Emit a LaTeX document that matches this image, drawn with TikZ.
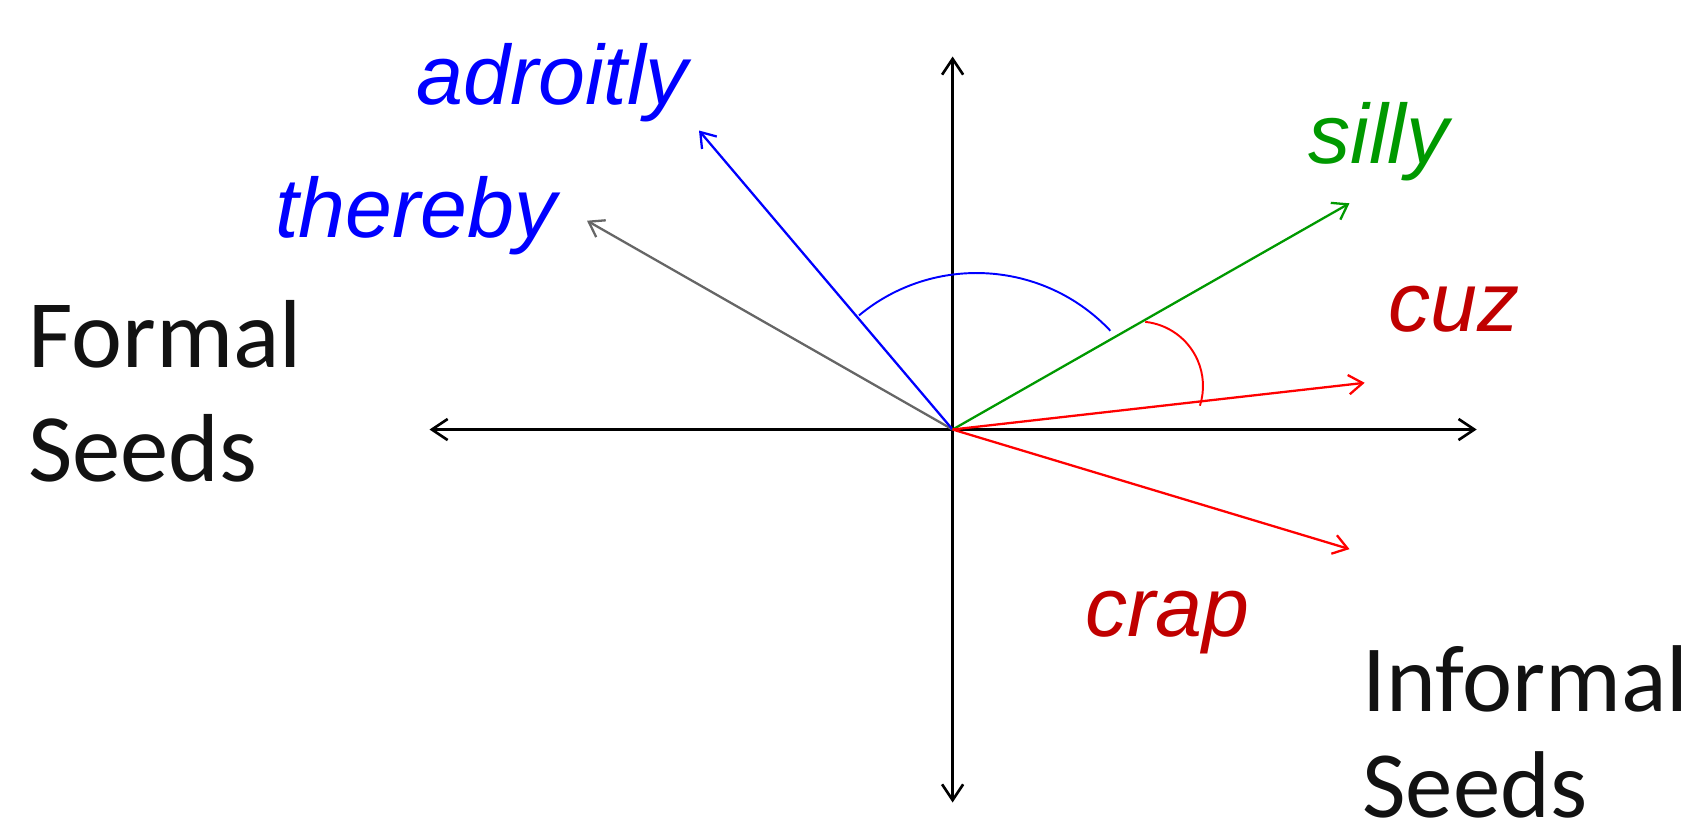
\documentclass[tikz,border=0pt]{standalone}
\usepackage{fontspec}
\setmainfont{Liberation Sans}
\newfontfamily\calib{Carlito}
\usetikzlibrary{arrows.meta}
\definecolor{wblue}{RGB}{0,0,255}
\definecolor{wgreen}{RGB}{0,153,0}
\definecolor{wdred}{RGB}{192,0,0}
\definecolor{wred}{RGB}{255,0,0}
\definecolor{wgray}{RGB}{102,102,102}
\tikzset{
  axis/.style={draw=black, line width=1.5pt, {Straight Barb[length=9pt,width=12pt]}-{Straight Barb[length=9pt,width=12pt]}},
  vec/.style={line width=1.3pt, -{Straight Barb[length=8pt,width=11pt]}},
  word/.style={font=\fontsize{48}{56}\selectfont\itshape, inner sep=0pt, anchor=base west},
  seed/.style={font=\calib\fontsize{55}{66}\selectfont, inner sep=0pt, anchor=base west, text=black!93},
  anglearc/.style={line width=1.1pt}
}
\begin{document}
\begin{tikzpicture}[x=0.02cm,y=-0.02cm]
\useasboundingbox (0,0) rectangle (1705,826);
\coordinate (O) at (952.6,429.5);
\coordinate (L) at (429.5,429.5);
\coordinate (R) at (1476.7,429.5);
\coordinate (T) at (952.6,56.5);
\coordinate (B) at (952.6,802.5);
\coordinate (adr) at (699,130.5);
\coordinate (thr) at (587,220.7);
\coordinate (sil) at (1349.5,203.3);
\coordinate (cuz) at (1364.7,382.8);
\coordinate (crp) at (1349.5,549.1);
% axes
\draw[axis] (L) -- (R);
\draw[axis] (B) -- (T);
% vectors
\draw[vec, draw=wgray] (O) -- (thr);
\draw[vec, draw=wblue] (O) -- (adr);
\draw[vec, draw=wgreen] (O) -- (sil);
\draw[vec, draw=wred] (O) -- (cuz);
\draw[vec, draw=wred] (O) -- (crp);
% angle arcs
\coordinate (bc) at (976.5,457);
\draw[anglearc, draw=wblue] ([shift={(-129.7:184)}]bc) arc[start angle=-129.7, end angle=-43.3, radius=184];
\coordinate (rc) at (1138.5,386);
\draw[anglearc, draw=wred] ([shift={(-84:64.5)}]rc) arc[start angle=-84, end angle=17.8, radius=64.5];
% labels
\node[word, text=wblue] (ladr) at (416,104) {adroitly};
\node[word, text=wblue] (lthr) at (275,237) {thereby};
\node[word, text=wgreen] (lsil) at (1308,163) {silly};
\node[word, text=wdred] (lcuz) at (1388,331) {cuz};
\node[word, text=wdred] (lcrp) at (1085,636) {crap};
\node[seed] (f1) at (28,367.5) {Formal};
\node[seed] (f2) at (28,481.5) {Seeds};
\node[seed, font=\calib\fontsize{54}{64}\selectfont] (i1) at (1362,711) {Informal};
\node[seed, font=\calib\fontsize{54}{64}\selectfont] (i2) at (1362,817) {Seeds};
\end{tikzpicture}
\end{document}
